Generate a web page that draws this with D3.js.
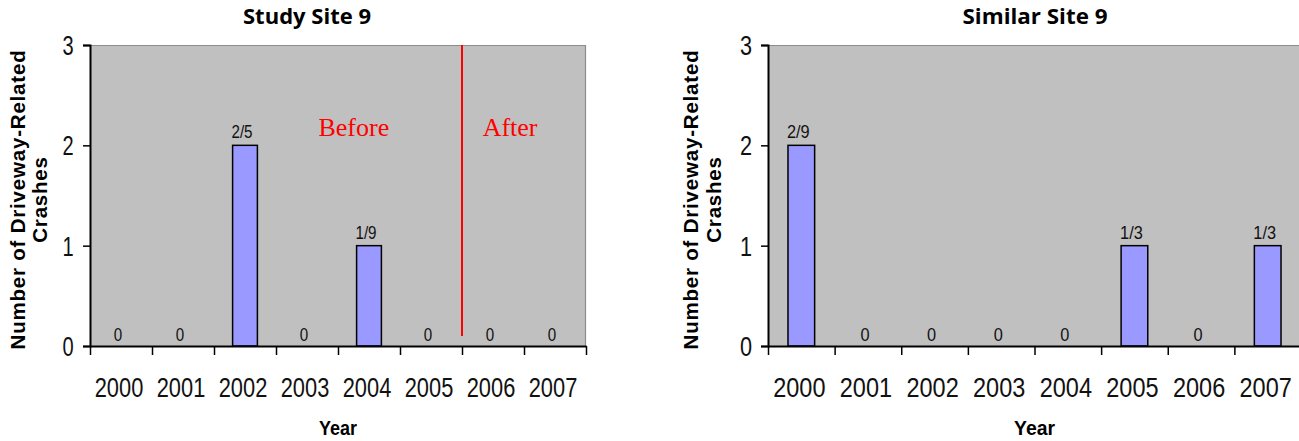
<!DOCTYPE html>
<html>
<head>
<meta charset="utf-8">
<script src="https://cdn.jsdelivr.net/npm/d3@7"></script>
<style>
  html, body { margin: 0; padding: 0; background: #fff; }
  svg { display: block; }
</style>
</head>
<body>
<svg id="chart" width="1299" height="441"></svg>
<script>
// Driveway-related crash counts per year, study site vs. similar (comparison) site
const years = ["2000", "2001", "2002", "2003", "2004", "2005", "2006", "2007"];
const studyCounts = [0, 0, 2, 0, 1, 0, 0, 0];
const studyLabels = ["0", "0", "2/5", "0", "1/9", "0", "0", "0"];
const similarCounts = [2, 0, 0, 0, 0, 1, 0, 1];
const similarLabels = ["2/9", "0", "0", "0", "0", "1/3", "0", "1/3"];
const yTicks = [0, 1, 2, 3];
const treatmentStartYear = "2006";
const periodNames = ["Before", "After"];

const svg = d3.select("#chart");
const sans = "'Liberation Sans', Arial, Helvetica, sans-serif";

const panels = [
  { title: "Study Site 9", counts: studyCounts, labels: studyLabels,
    left: 90, right: 586, squeeze: 0.78, titleX: 307, titleLen: 128,
    axisTitleX: 25, axisTitleGap: 22, periods: true },
  { title: "Similar Site 9", counts: similarCounts, labels: similarLabels,
    left: 768, right: 1301, squeeze: 0.84, titleX: 1035, titleLen: 145,
    axisTitleX: 698, axisTitleGap: 23, periods: false }
];

const plotTop = 45, plotBottom = 346;

panels.forEach(p => {
  const g = svg.append("g");
  const x = d3.scaleBand().domain(years).range([p.left, p.right]).padding(0);
  const y = d3.scaleLinear().domain([0, 3]).range([plotBottom, plotTop]);
  const edges = d3.scaleLinear().domain([0, years.length]).range([p.left, p.right]);
  const w = p.right - p.left;

  // plot area
  g.append("rect")
    .attr("x", p.left).attr("y", plotTop)
    .attr("width", w).attr("height", plotBottom - plotTop)
    .attr("fill", "#c0c0c0");
  g.append("path")
    .attr("d", `M${p.left},${plotTop + 0.5}H${p.right - 0.5}V${plotBottom}`)
    .attr("fill", "none").attr("stroke", "#8c8c8c").attr("stroke-width", 1.2);

  // bars
  const bw = x.bandwidth() * 0.4;
  g.selectAll("rect.bar")
    .data(years.map((yr, i) => ({ yr, v: p.counts[i], label: p.labels[i] })).filter(d => d.v > 0))
    .join("rect")
    .attr("class", "bar")
    .attr("x", d => x(d.yr) + (x.bandwidth() - bw) / 2)
    .attr("y", d => y(d.v))
    .attr("width", bw)
    .attr("height", d => y(0) - y(d.v))
    .attr("fill", "#9999ff")
    .attr("stroke", "#000")
    .attr("stroke-width", 1.5);

  // y axis
  const yAxis = d3.axisLeft(y).tickValues(yTicks).tickSize(7).tickFormat("");
  const ya = g.append("g").attr("transform", `translate(${p.left},0)`).call(yAxis);
  ya.select(".domain").attr("stroke", "#000").attr("stroke-width", 2);
  ya.selectAll(".tick line").attr("stroke", "#000").attr("stroke-width", 1.5);

  g.selectAll("text.ytick")
    .data(yTicks)
    .join("text")
    .attr("class", "ytick")
    .attr("transform", d => `translate(${p.left - 22},${y(d) + 10}) scale(${p.squeeze * 0.92},1)`)
    .attr("text-anchor", "middle")
    .attr("font-family", sans).attr("font-size", 28)
    .attr("fill", "#111")
    .text(d => d);

  // x axis: ticks on category boundaries
  const xAxis = d3.axisBottom(edges).tickValues(d3.range(years.length + 1)).tickSize(9).tickFormat("").tickSizeOuter(0);
  const xa = g.append("g").attr("transform", `translate(0,${plotBottom})`).call(xAxis);
  xa.select(".domain").attr("stroke", "#000").attr("stroke-width", 2);
  xa.selectAll(".tick line").attr("stroke", "#000").attr("stroke-width", 1.5);

  g.selectAll("text.year")
    .data(years)
    .join("text")
    .attr("class", "year")
    .attr("transform", d => `translate(${x(d) + x.bandwidth() / 2 - 2},397) scale(${p.squeeze},1)`)
    .attr("text-anchor", "middle")
    .attr("font-family", sans).attr("font-size", 28)
    .attr("fill", "#111")
    .text(d => d);

  // value labels
  g.selectAll("text.val")
    .data(years.map((yr, i) => ({ yr, v: p.counts[i], label: p.labels[i] })))
    .join("text")
    .attr("class", "val")
    .attr("transform", d => `translate(${x(d.yr) + x.bandwidth() / 2 - 3},${y(d.v) - (d.v > 0 ? 7 : 5)}) scale(${p.squeeze * 1.08},1)`)
    .attr("text-anchor", "middle")
    .attr("font-family", sans).attr("font-size", 18)
    .attr("fill", "#111")
    .text(d => d.label);

  // titles
  g.append("text")
    .attr("x", p.titleX).attr("y", 24)
    .attr("text-anchor", "middle")
    .attr("font-family", "'Open Sans', 'Noto Sans', sans-serif")
    .attr("font-weight", "bold").attr("font-size", 21)
    .attr("textLength", p.titleLen).attr("lengthAdjust", "spacingAndGlyphs")
    .attr("fill", "#000")
    .text(p.title);

  g.append("text")
    .attr("transform", `translate(${(p.left + p.right) / 2},435) scale(${p.squeeze * 1.1},1)`)
    .attr("text-anchor", "middle")
    .attr("font-family", sans).attr("font-weight", "bold").attr("font-size", 21)
    .attr("fill", "#000")
    .text("Year");

  const cy = (plotTop + plotBottom) / 2 + 4;
  [["Number of Driveway-Related", 0], ["Crashes", 1]].forEach(([t, k]) => {
    g.append("text")
      .attr("transform", `translate(${p.axisTitleX + k * p.axisTitleGap},${cy}) rotate(-90)`)
      .attr("text-anchor", "middle")
      .attr("font-family", sans).attr("font-weight", "bold").attr("font-size", 20.5)
      .attr("letter-spacing", 0.8)
      .attr("fill", "#000")
      .text(t);
  });

  // treatment period marker
  if (p.periods) {
    const xs = x(treatmentStartYear);
    g.append("line")
      .attr("x1", xs).attr("x2", xs)
      .attr("y1", y(3)).attr("y2", y(0.1))
      .attr("stroke", "#ff0000").attr("stroke-width", 2);
    const serif = "'Liberation Serif', 'Times New Roman', serif";
    [[periodNames[0], 0.532], [periodNames[1], 0.847]].forEach(([t, f]) => {
      g.append("text")
        .attr("x", p.left + f * w).attr("y", 136)
        .attr("text-anchor", "middle")
        .attr("font-family", serif).attr("font-size", 26)
        .attr("fill", "#ff0000")
        .text(t);
    });
  }
});
</script>
</body>
</html>
